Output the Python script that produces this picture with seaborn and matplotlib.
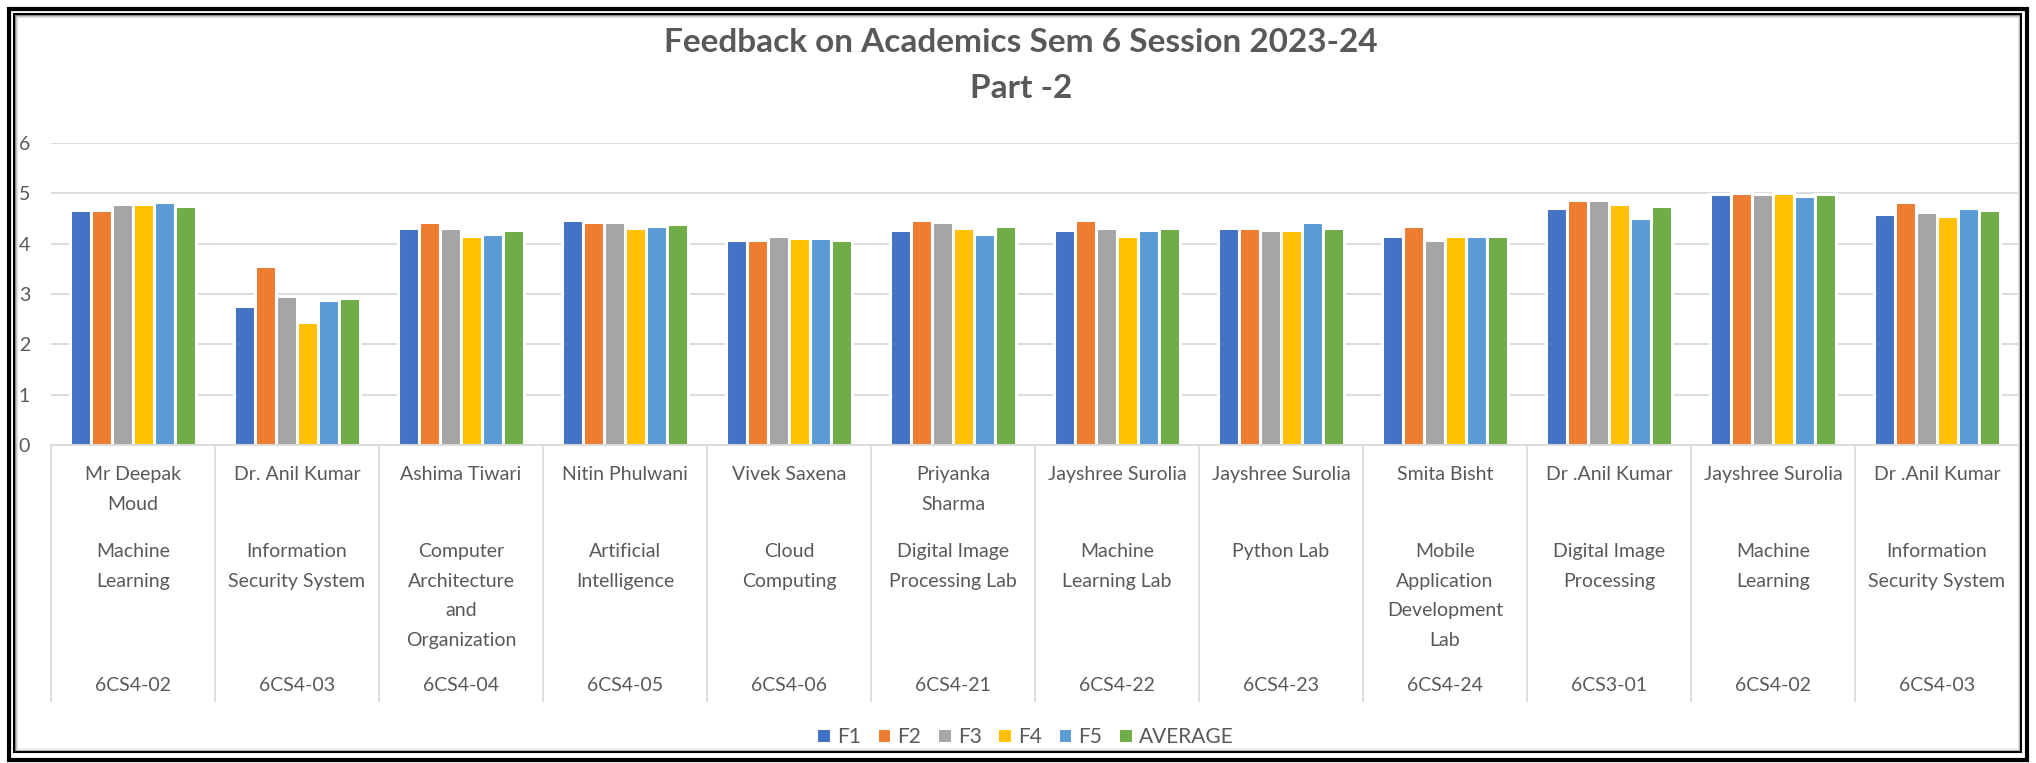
import numpy as np
import pandas as pd
import seaborn as sns
from matplotlib import pyplot as plt
from matplotlib.patches import Rectangle

# teacher / subject / code for each group on the x axis
teachers = [
    "Mr Deepak\nMoud", "Dr. Anil Kumar", "Ashima Tiwari", "Nitin Phulwani",
    "Vivek Saxena", "Priyanka\nSharma", "Jayshree Surolia", "Jayshree Surolia",
    "Smita Bisht", "Dr .Anil Kumar", "Jayshree Surolia", "Dr .Anil Kumar",
]
subjects = [
    "Machine\nLearning", "Information\nSecurity System",
    "Computer\nArchitecture\nand\nOrganization", "Artificial\nIntelligence",
    "Cloud\nComputing", "Digital Image\nProcessing Lab", "Machine\nLearning Lab",
    "Python Lab", "Mobile\nApplication\nDevelopment\nLab",
    "Digital Image\nProcessing", "Machine\nLearning", "Information\nSecurity System",
]
codes = [
    "6CS4-02", "6CS4-03", "6CS4-04", "6CS4-05", "6CS4-06", "6CS4-21",
    "6CS4-22", "6CS4-23", "6CS4-24", "6CS3-01", "6CS4-02", "6CS4-03",
]

series = ["F1", "F2", "F3", "F4", "F5", "AVERAGE"]
f1 = [4.67, 2.76, 4.31, 4.47, 4.07, 4.27, 4.27, 4.31, 4.15, 4.71, 4.98, 4.59]
f2 = [4.67, 3.55, 4.43, 4.43, 4.07, 4.47, 4.47, 4.31, 4.35, 4.87, 5.00, 4.83]
f3 = [4.79, 2.96, 4.31, 4.43, 4.15, 4.43, 4.31, 4.27, 4.07, 4.87, 4.98, 4.63]
f4 = [4.79, 2.44, 4.15, 4.31, 4.11, 4.31, 4.15, 4.27, 4.15, 4.79, 5.00, 4.55]
f5 = [4.83, 2.88, 4.19, 4.35, 4.11, 4.19, 4.27, 4.43, 4.15, 4.51, 4.94, 4.71]
average = [4.75, 2.92, 4.27, 4.39, 4.07, 4.35, 4.31, 4.31, 4.15, 4.75, 4.98, 4.67]

colors = ["#4472C4", "#ED7D31", "#A5A5A5", "#FFC000", "#5B9BD5", "#70AD47"]
text_grey = "#595959"
grid_grey = "#D9D9D9"

W, H = 2036, 763

sns.set_style("white")
plt.rcParams["font.family"] = ["Lato", "DejaVu Sans"]

rows = []
for name, vals in zip(series, [f1, f2, f3, f4, f5, average]):
    for i, v in enumerate(vals):
        rows.append({"group": i, "series": name, "score": v})
df = pd.DataFrame(rows)

fig = plt.figure(figsize=(W / 100, H / 100), dpi=100)
ax = fig.add_axes([51 / W, 1 - 445 / H, 1968 / W, 302 / H])

sns.barplot(
    data=df, x="group", y="score", hue="series", hue_order=series,
    palette=colors, width=0.77, edgecolor="white", linewidth=2.2,
    saturation=1, ax=ax,
)

ax.set_ylim(0, 6)
ax.set_xlim(-0.5, len(codes) - 0.5)
ax.set_yticks(range(7))
ax.yaxis.grid(True, color=grid_grey, linewidth=1.3)
ax.set_axisbelow(True)
for s in ["top", "right", "left"]:
    ax.spines[s].set_visible(False)
ax.spines["bottom"].set_color(grid_grey)
ax.spines["bottom"].set_linewidth(1.3)
ax.tick_params(axis="y", length=0, pad=15, labelsize=14, labelcolor=text_grey)
ax.tick_params(axis="x", length=0)
ax.set_xticklabels([])
ax.set_xlabel("")
ax.set_ylabel("")

# multi-level category labels below the axis
ax.vlines(np.arange(len(codes) + 1) - 0.5, -257 / 302, 0,
          transform=ax.get_xaxis_transform(), colors=grid_grey,
          linewidth=1.2, clip_on=False)
xt = ax.get_xaxis_transform()
line_px = 29.5
for i in range(len(codes)):
    for k, line in enumerate(teachers[i].split("\n")):
        y = (445 - (475 + k * line_px)) / 302
        ax.text(i, y, line, transform=xt, ha="center", va="center",
                fontsize=14, color=text_grey)
    for k, line in enumerate(subjects[i].split("\n")):
        y = (445 - (552 + k * line_px)) / 302
        ax.text(i, y, line, transform=xt, ha="center", va="center",
                fontsize=14, color=text_grey)
    ax.text(i, (445 - 686) / 302, codes[i], transform=xt, ha="center",
            va="center", fontsize=14, color=text_grey)

# legend
handles, labels = ax.get_legend_handles_labels()
ax.get_legend().remove()
fig.legend(handles, labels, loc="center", bbox_to_anchor=(1025 / W, 1 - 737 / H),
           ncol=6, frameon=False, fontsize=15, labelcolor=text_grey,
           handlelength=0.7, handleheight=0.7, handletextpad=0.3,
           columnspacing=0.75)

# title
fig.text(1021 / W, 1 - 43 / H, "Feedback on Academics Sem 6 Session 2023-24",
         ha="center", va="center", fontsize=24, fontweight="bold", color=text_grey)
fig.text(1021 / W, 1 - 88 / H, "Part -2", ha="center", va="center",
         fontsize=24, fontweight="bold", color=text_grey)

# picture frame with inner shadow
def frame(l, t, r, b, **kw):
    fig.patches.append(Rectangle((l / W, 1 - b / H), (r - l) / W, (b - t) / H,
                                 transform=fig.transFigure, fill=False, **kw))

frame(9, 9, 2027, 760, edgecolor="black", linewidth=3)
for k, g in enumerate(["#8a8a8a", "#bdbdbd", "#e4e4e4"]):
    off = 15.3 + k * 1.0
    frame(off, off, 2020 - k * 1.0, 751 - k * 1.0,
          edgecolor=g, linewidth=1.0)
frame(14, 14, 2021, 752, edgecolor="black", linewidth=1.5)

fig.savefig("out.png", dpi=100)
